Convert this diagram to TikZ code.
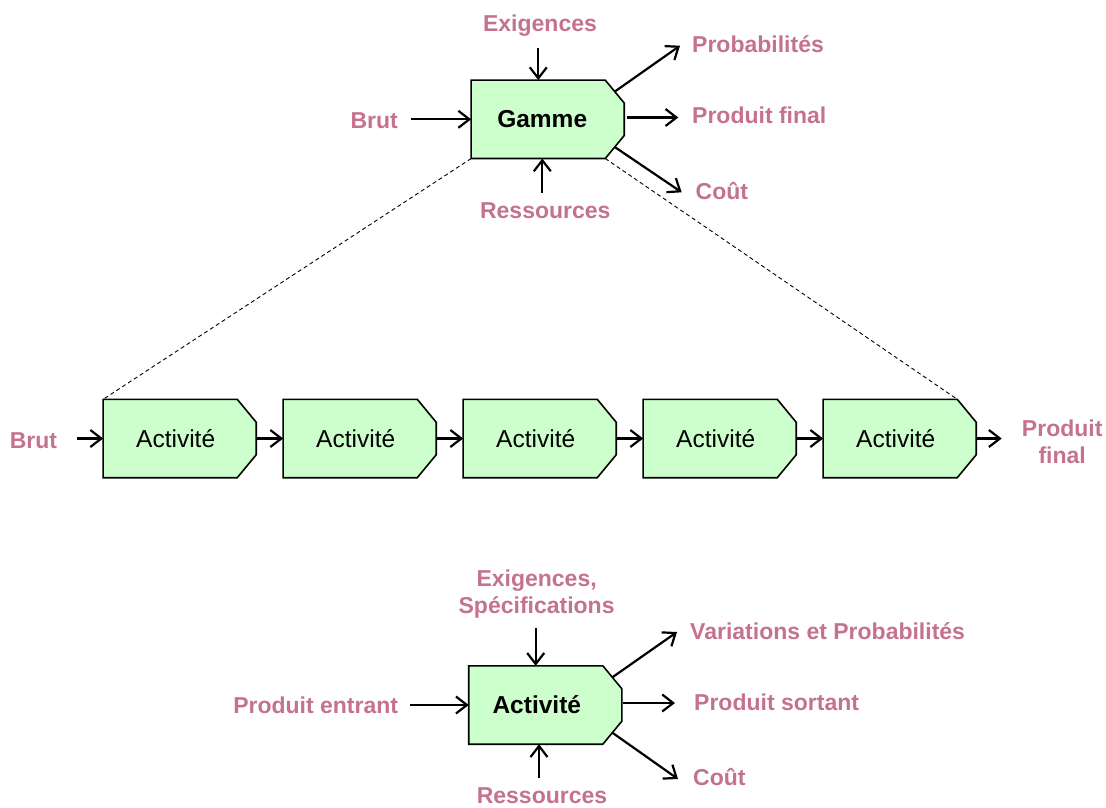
\documentclass[tikz,border=0pt]{standalone}
\usepackage{fontspec}
\setmainfont{Liberation Sans}
\usetikzlibrary{arrows.meta,calc}
\pgfdeclarelayer{background}
\pgfsetlayers{background,main}
\definecolor{labcol}{RGB}{196,114,142}
\definecolor{boxfill}{RGB}{204,255,204}
\begin{document}
\begin{tikzpicture}[x=1pt,y=-1pt,
  chbox/.style={rectangle, minimum width=152.7pt, minimum height=78pt, inner sep=0pt},
  chshape/.style={draw=black, line width=1.6pt, fill=boxfill, line join=miter},
  boldtxt/.style={font=\fontsize{24.5}{28}\selectfont\bfseries},
  plaintxt/.style={font=\fontsize{24.5}{28}\selectfont},
  lab/.style={font=\fontsize{23}{26.7}\selectfont\bfseries, text=labcol, inner sep=0pt},
  arr/.style={line width=2.2pt, -{Straight Barb[length=11pt,width=17pt]}},
  guide/.style={line width=0.9pt, dash pattern=on 4pt off 3pt}
]
\useasboundingbox (0,0) rectangle (1106,807);

% ---------- top: Gamme ----------
\node[chbox, boldtxt] (g) at (547.7,119.3) {\hspace*{-11pt}Gamme};
\node[lab, anchor=base] (ex) at (540,31) {Exigences};
\node[lab, anchor=base east] (brut) at (398,128) {Brut};
\node[lab, anchor=base west] (prob) at (692,52) {Probabilités};
\node[lab, anchor=base west] (pf) at (692,123.5) {Produit final};
\node[lab, anchor=base west] (cout) at (695.5,199) {Coût};
\node[lab, anchor=base] (res) at (545.3,218.3) {Ressources};

\coordinate (exs) at (538.3,47.7);
\coordinate (ress) at (542.3,192.7);
\coordinate (bruts) at (411,119.3);
\coordinate (probe) at (680,45.7);
\coordinate (pfe) at (678.3,117.5);
\coordinate (coute) at (681.7,192.3);
\coordinate (gne) at ($(g.north east)+(-9.5,11.5)$);
\coordinate (gse) at ($(g.south east)+(-9.5,-11.5)$);

\draw[arr] (exs) -- (exs |- g.north);
\draw[arr] (ress) -- (ress |- g.south);
\draw[arr] (bruts) -- (g.west);
\draw[arr] (gne) -- (probe);
\draw[arr, shorten <=3pt] (g.east |- pfe) -- (pfe);
\draw[arr] (gse) -- (coute);

% ---------- middle: chain of activities ----------
\foreach \i/\cx in {1/179.7,2/359.7,3/539.7,4/719.7,5/899.7}{
  \node[chbox, plaintxt] (a\i) at (\cx,438.5) {\hspace*{-8pt}Activité};
}
\node[lab, anchor=base east] (brut2) at (57.3,448.3) {Brut};
\node[lab, anchor=north, align=center] (pf2) at (1062.2,419.8) {Produit\\final};
\coordinate (brut2s) at (76.7,438.5);
\coordinate (pf2e) at (1001.7,438.5);

\draw[arr] (brut2s) -- (a1.west);
\draw[arr] (a1.east) -- (a2.west);
\draw[arr] (a2.east) -- (a3.west);
\draw[arr] (a3.east) -- (a4.west);
\draw[arr] (a4.east) -- (a5.west);
\draw[arr] (a5.east) -- (pf2e);

% dashed guide lines
\draw[guide] (g.south west) -- (a1.north west);
\draw[guide] ($(g.south east)+(-19,0)$) -- ($(a5.north east)+(-19,0)$);

% ---------- bottom: Activité ----------
\node[chbox, boldtxt] (act) at (545.3,705) {\hspace*{-17pt}Activité};
\node[lab, anchor=north, align=center] (exsp) at (536.6,569.5) {Exigences,\\Spécifications};
\node[lab, anchor=base east] (pe) at (398.3,713.3) {Produit entrant};
\node[lab, anchor=base west] (var) at (690,639.5) {Variations et Probabilités};
\node[lab, anchor=base west] (ps) at (694,710) {Produit sortant};
\node[lab, anchor=base west] (cout3) at (693,785) {Coût};
\node[lab, anchor=base] (res3) at (542,803.3) {Ressources};

\coordinate (exs3) at (535.7,628.3);
\coordinate (ress3) at (539,778.3);
\coordinate (pes) at (410,705);
\coordinate (vare) at (677,632);
\coordinate (pse) at (675,703);
\coordinate (coute3) at (678,779);
\coordinate (actne) at ($(act.north east)+(-9.5,11.5)$);
\coordinate (actse) at ($(act.south east)+(-9.5,-11.5)$);

\draw[arr] (exs3) -- (exs3 |- act.north);
\draw[arr] (ress3) -- (ress3 |- act.south);
\draw[arr] (pes) -- (act.west);
\draw[arr] (actne) -- (vare);
\draw[arr, shorten <=1pt] (act.east |- pse) -- (pse);
\draw[arr] (actse) -- (coute3);

% ---------- chamfered outlines, behind the texts ----------
\begin{pgfonlayer}{background}
\foreach \n in {g,a1,a2,a3,a4,a5,act}{
  \filldraw[chshape] (\n.north west) -- ($(\n.north east)+(-19,0)$)
    -- ($(\n.north east)+(0,23)$) -- ($(\n.south east)+(0,-23)$)
    -- ($(\n.south east)+(-19,0)$) -- (\n.south west) -- cycle;
}
\end{pgfonlayer}
\end{tikzpicture}
\end{document}
